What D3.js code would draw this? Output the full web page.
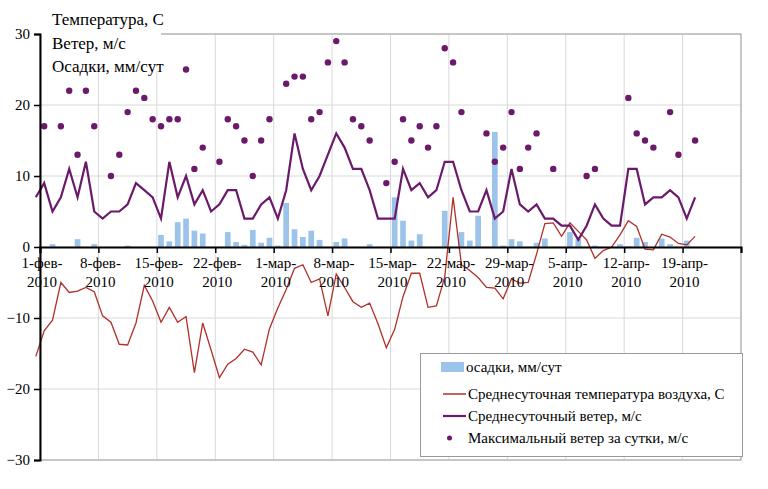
<!DOCTYPE html>
<html><head><meta charset="utf-8">
<script src="https://cdn.jsdelivr.net/npm/d3@7"></script>
</head><body style="margin:0;padding:0;background:#fff">
<svg id="c" width="768" height="489" style="display:block"></svg>
<script>
// ---- data (one value per day starting 1-фев-2010) ----
const precip = [0,0,0.4,0,0,1.1,0,0.4,0,0,0,0.2,0,0,0,1.7,0.8,3.5,4.0,2.3,1.9,0,0,2.1,0.7,0.3,2.4,0.6,1.3,0.2,
  6.2,2.5,1.4,2.3,1.0,0,0.7,1.2,0,0,0.4,0,0,7.0,3.7,0.9,1.8,0,0,5.1,0,2.1,0.9,4.4,0,16.2,0.2,1.1,0.8,0,
  0.6,1.2,0,0,2.1,1.1,0,0.2,0,0,0.4,0.1,1.3,0.7,0,1.2,0.4,0,0.9,0];
const tempAvg = [-15.4,-11.8,-10.3,-5.0,-6.4,-6.2,-5.7,-6.3,-9.7,-10.6,-13.7,-13.8,-10.7,-5.4,-7.6,-10.6,-8.5,-10.6,-9.8,-17.7,-10.7,-14.5,-18.4,-16.5,-15.7,-14.4,-14.8,-16.6,-11.5,-8.6,
  -6.0,-3.0,-2.5,-5.0,-4.5,-9.7,-3.8,-5.7,-7.7,-8.5,-7.9,-10.8,-14.2,-11.6,-7.0,-3.7,-3.7,-8.5,-8.3,-4.2,7.0,-2.5,-3.3,-4.3,-5.7,-5.8,-7.3,-4.5,-5.1,-5.0,
  -1.0,3.3,3.4,1.5,3.4,2.2,1.0,-1.6,-0.5,0.0,1.7,3.7,2.9,-0.3,-0.4,1.8,1.4,0.5,0.3,1.5];
const windAvg = [7,9,5,7,11,7,12,5,4,5,5,6,9,8,7,4,12,7,10,6,8,5,6,8,8,4,4,6,7,4,
  8,16,11,8,10,13,16,14,11,11,8,4,4,4,11,8,9,7,8,12,12,8,5,5,8,4,5,11,6,5,
  6,4,4,3,3,1,3,6,4,3,3,11,11,6,7,7,8,7,4,7];
const windMax = [null,17,null,17,22,13,22,17,null,10,13,19,22,21,18,17,18,18,25,11,14,null,12,18,17,15,10,15,18,null,
  23,24,24,18,19,26,29,26,18,17,15,null,9,12,18,15,17,14,17,28,26,19,null,null,16,12,14,19,11,14,
  16,null,11,null,null,null,10,11,null,null,null,21,16,15,14,null,19,13,null,15];
const tickLabels = [["1-фев-","2010"],["8-фев-","2010"],["15-фев-","2010"],["22-фев-","2010"],
  ["1-мар-","2010"],["8-мар-","2010"],["15-мар-","2010"],["22-мар-","2010"],["29-мар-","2010"],
  ["5-апр-","2010"],["12-апр-","2010"],["19-апр-","2010"]];
const yTicks = [30,20,10,0,-10,-20,-30];
const titleLines = ["Температура, С","Ветер, м/с","Осадки, мм/сут"];
const legendItems = ["осадки, мм/сут","Среднесуточная температура воздуха, С","Среднесуточный ветер, м/с","Максимальный ветер за сутки, м/с"];

// ---- layout ----
const L=40, R=741, T=34, B=460;
const font = '"Liberation Serif", serif';
const cBar="#9cc3ea", cTemp="#b0302a", cWind="#6b1a6b", cDot="#6b1a6b";
const dayOffset = -0.5;
const svg = d3.select("#c");
const x = d3.scaleLinear().domain([0,84]).range([L,R]);
const y = d3.scaleLinear().domain([-30,30]).range([B,T]);
const px = i => x(i + dayOffset);

// grid
const gx = d3.range(0,85,7);
svg.append("g").selectAll("line").data(gx).join("line")
  .attr("x1",d=>x(d)).attr("x2",d=>x(d)).attr("y1",T).attr("y2",B)
  .attr("stroke","#d9d9d9").attr("stroke-width",1);
svg.append("g").selectAll("line").data(yTicks).join("line")
  .attr("x1",L).attr("x2",R).attr("y1",d=>y(d)).attr("y2",d=>y(d))
  .attr("stroke","#d9d9d9").attr("stroke-width",1);
// border
svg.append("rect").attr("x",L).attr("y",T).attr("width",R-L).attr("height",B-T)
  .attr("fill","none").attr("stroke","#a0a0a0").attr("stroke-width",1);

// bars
const bw = 8.36*0.68;
svg.append("g").selectAll("rect").data(precip.map((v,i)=>({v,i})).filter(d=>d.v>0)).join("rect")
  .attr("x",d=>px(d.i)-bw/2).attr("width",bw)
  .attr("y",d=>y(d.v)).attr("height",d=>y(0)-y(d.v)).attr("fill",cBar);

// temperature
svg.append("path").datum(tempAvg)
  .attr("d",d3.line().x((d,i)=>px(i)).y(d=>y(d)))
  .attr("fill","none").attr("stroke",cTemp).attr("stroke-width",1.3);
// wind avg
svg.append("path").datum(windAvg)
  .attr("d",d3.line().x((d,i)=>px(i)).y(d=>y(d)))
  .attr("fill","none").attr("stroke",cWind).attr("stroke-width",2.2).attr("stroke-linejoin","miter");
// wind max dots
svg.append("g").selectAll("circle").data(windMax.map((v,i)=>({v,i})).filter(d=>d.v!==null)).join("circle")
  .attr("cx",d=>px(d.i)).attr("cy",d=>y(d.v)).attr("r",3.2).attr("fill",cDot);

// title box
svg.append("rect").attr("x",L+1).attr("y",0).attr("width",120).attr("height",71).attr("fill","#fff");
svg.selectAll("text.title").data(titleLines).join("text").attr("class","title")
  .attr("x",52).attr("y",(d,i)=>25+i*23.5).attr("font-size",17)
  .style("font-family",font).attr("fill","#000").text(d=>d);

// y axis
const yAxis = d3.axisLeft(y).tickValues(yTicks).tickSize(6).tickPadding(4).tickFormat(d3.format("d"));
const gy = svg.append("g").attr("transform",`translate(${L},0)`).call(yAxis)
  .attr("font-family",null).attr("font-size",null);
gy.select(".domain").attr("stroke","#000").attr("stroke-width",2);
gy.selectAll(".tick line").attr("stroke","#000").attr("stroke-width",1.5);
gy.selectAll("text").attr("font-size",15).style("font-family",font).attr("fill","#000");

// x axis at zero
const xAxis = d3.axisBottom(x).tickValues(gx).tickSize(6).tickFormat("");
const gxa = svg.append("g").attr("transform",`translate(0,${y(0)})`).call(xAxis);
gxa.select(".domain").attr("stroke","#000").attr("stroke-width",2);
gxa.selectAll(".tick line").attr("stroke","#000").attr("stroke-width",1.5);
const labG = svg.append("g");
tickLabels.forEach((d,i)=>{
  labG.append("text").attr("x",x(i*7)+2).attr("y",y(0)+21).attr("text-anchor","middle")
    .attr("font-size",15).style("font-family",font).attr("fill","#000").text(d[0]);
  labG.append("text").attr("x",x(i*7)+2).attr("y",y(0)+40).attr("text-anchor","middle")
    .attr("font-size",15).style("font-family",font).attr("fill","#000").text(d[1]);
});

// legend
const lg = svg.append("g");
lg.append("rect").attr("x",420.5).attr("y",353.5).attr("width",322).attr("height",103)
  .attr("fill","#fff").attr("stroke","#9a9a9a").attr("stroke-width",1);
const ly = [367,394,416,438];
lg.append("rect").attr("x",441).attr("y",362).attr("width",23).attr("height",10).attr("fill",cBar);
lg.append("line").attr("x1",443).attr("x2",466).attr("y1",ly[1]).attr("y2",ly[1]).attr("stroke",cTemp).attr("stroke-width",1.5);
lg.append("line").attr("x1",443).attr("x2",466).attr("y1",ly[2]).attr("y2",ly[2]).attr("stroke",cWind).attr("stroke-width",2.2);
lg.append("circle").attr("cx",449.5).attr("cy",ly[3]).attr("r",2.5).attr("fill",cDot);
legendItems.forEach((d,i)=>{
  lg.append("text").attr("x",i===0?466:468).attr("y",ly[i]+5).attr("font-size",15)
    .style("font-family",font).attr("fill","#000").text(d);
});
</script>
</body></html>
